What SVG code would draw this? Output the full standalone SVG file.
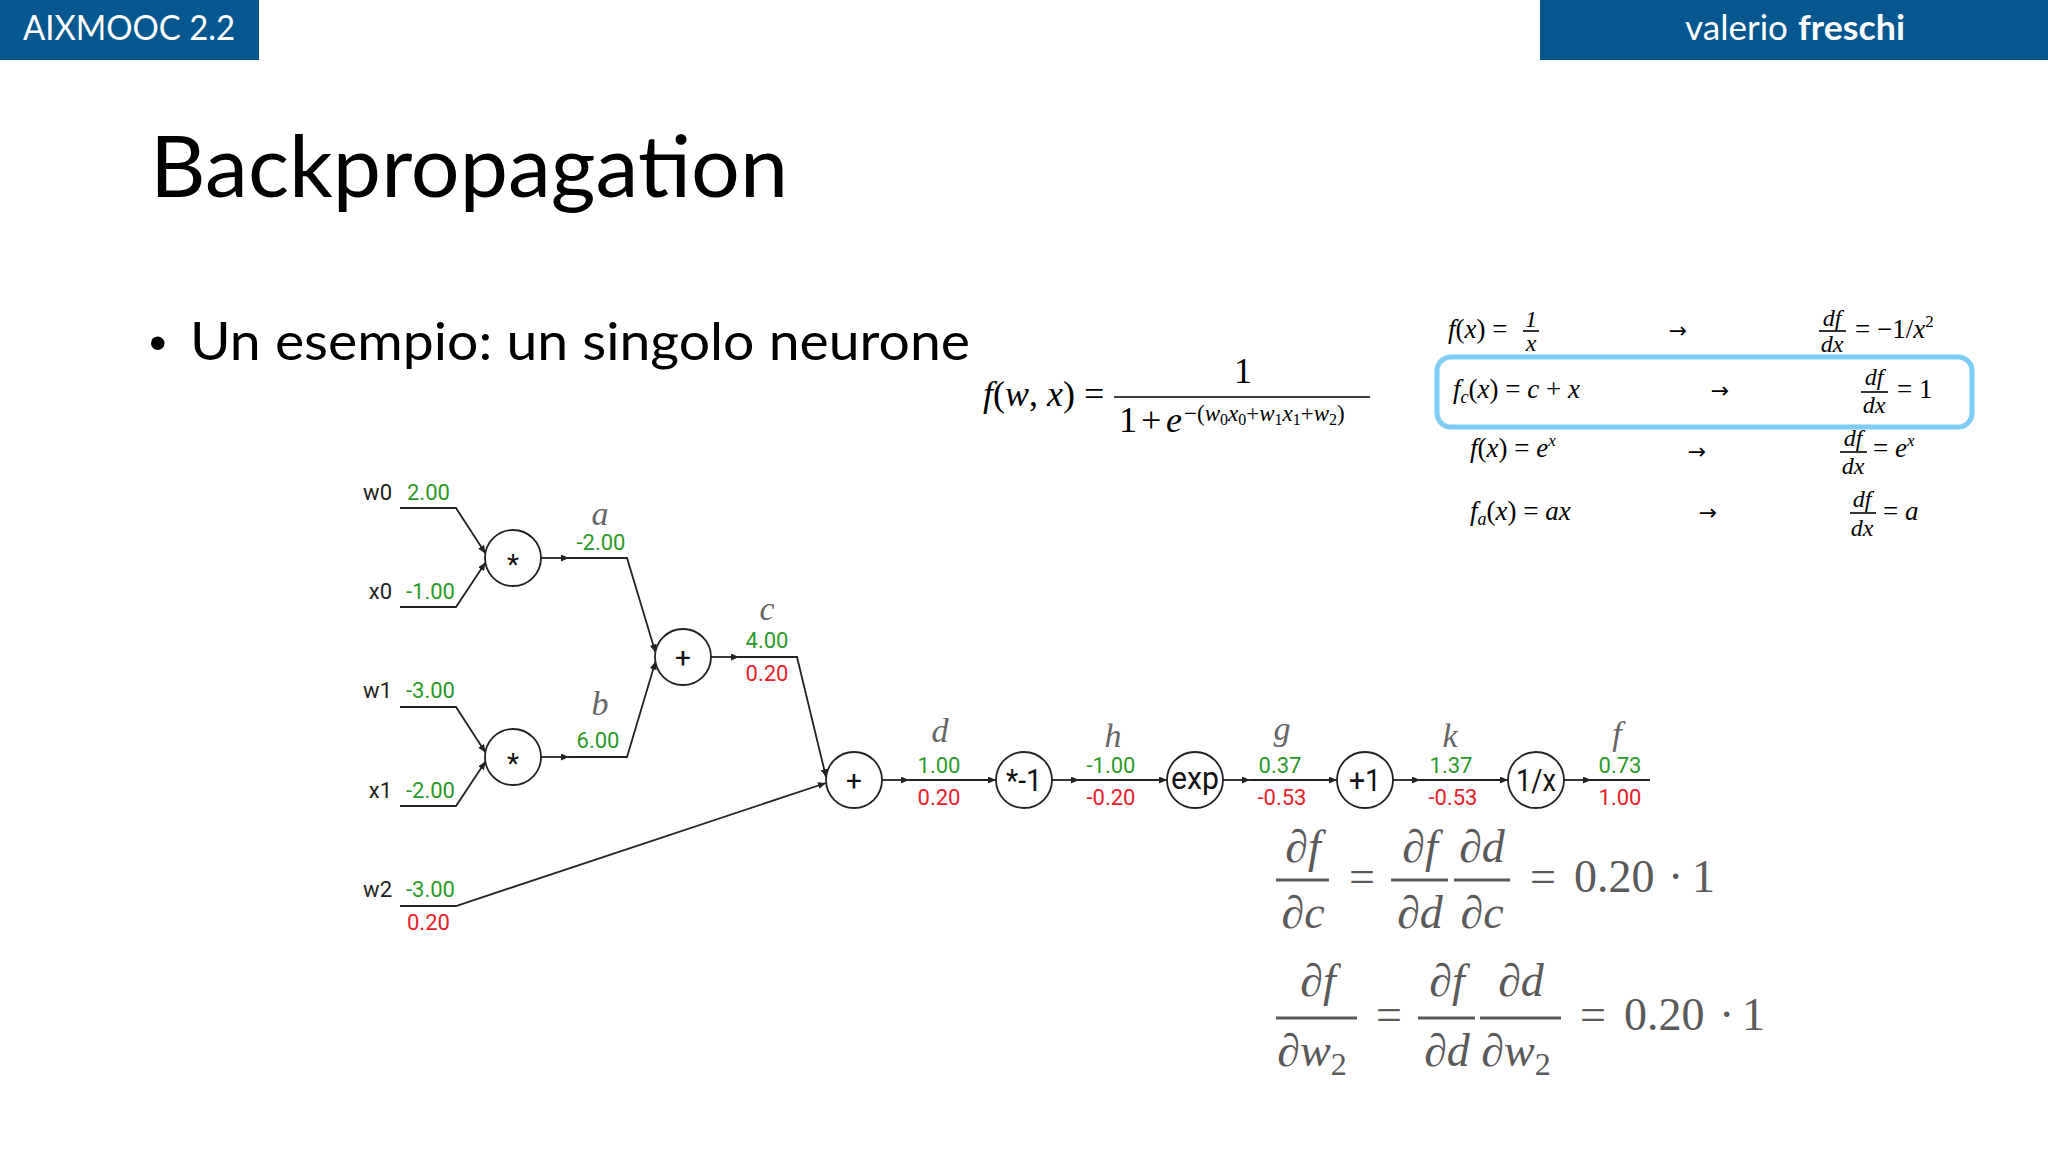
<svg xmlns="http://www.w3.org/2000/svg" width="2048" height="1152" viewBox="0 0 2048 1152">
<defs>
<style>
.hdr{fill:#04578f}
.sans{font-family:Lato,"Liberation Sans",sans-serif}
.hdrt{font-family:Lato,"Liberation Sans",sans-serif;font-size:34px;fill:#fff}
.lbl{font-family:Roboto,"Liberation Sans",sans-serif;font-size:22px;fill:#222;text-anchor:end}
.gv{font-family:Roboto,"Liberation Sans",sans-serif;font-size:22px;fill:#2a9a2a;text-anchor:middle}
.gr{font-family:Roboto,"Liberation Sans",sans-serif;font-size:22px;fill:#e8202a;text-anchor:middle}
.st{text-anchor:start}
.var{font-family:"Liberation Serif",serif;font-style:italic;font-size:34px;fill:#666;text-anchor:middle}
.node circle{fill:#fff;stroke:#222;stroke-width:1.8}
.op{font-family:Roboto,"Liberation Sans",sans-serif;font-size:28px;text-anchor:middle;fill:#111}
.op2{font-family:Roboto,"Liberation Sans",sans-serif;font-size:32px;fill:#111}
.edge{fill:none;stroke:#222;stroke-width:1.8}
.m{font-family:"Liberation Serif",serif;fill:#000}
.t{font-family:"Liberation Serif",serif;fill:#000;font-size:27px}
.f{font-family:"Liberation Serif",serif;fill:#000;font-size:24px;text-anchor:middle;font-style:italic}
.arr{font-family:"DejaVu Sans",sans-serif;fill:#000;font-size:22px;text-anchor:middle}
.i{font-style:italic}
.eq{font-family:"Liberation Serif",serif;fill:#5a5a5a;font-size:46px}
.eqc{font-family:"Liberation Serif",serif;fill:#5a5a5a;font-size:46px;text-anchor:middle;font-style:italic}
.bar{stroke:#000;stroke-width:1.6}
.ebar{stroke:#5a5a5a;stroke-width:3}
</style>
<marker id="ah" markerUnits="userSpaceOnUse" markerWidth="9" markerHeight="7" refX="8" refY="3.5" orient="auto"><path d="M0,0 L8,3.5 L0,7 z" fill="#222"/></marker>
</defs>
<rect width="2048" height="1152" fill="#fff"/>

<!-- header -->
<g id="header-left">
<rect class="hdr" x="0" y="0" width="259" height="60"/>
<text class="hdrt" x="23" y="40" textLength="212" lengthAdjust="spacingAndGlyphs">AIXMOOC 2.2</text>
</g>
<g id="header-right">
<rect class="hdr" x="1540" y="0" width="508" height="60"/>
<text class="hdrt" x="1685" y="40" textLength="103" lengthAdjust="spacingAndGlyphs">valerio</text>
<text class="hdrt" x="1798" y="40" font-weight="bold" textLength="107" lengthAdjust="spacingAndGlyphs">freschi</text>
</g>

<g id="title">
<text class="sans" x="150" y="197" font-size="86" fill="#000" textLength="638" lengthAdjust="spacingAndGlyphs">Backpropagation</text>
</g>
<g id="bullet">
<text x="149" y="360" font-family="'Liberation Sans',sans-serif" font-size="50" fill="#000">•</text>
<text class="sans" x="190" y="360" font-size="53" fill="#000" textLength="780" lengthAdjust="spacingAndGlyphs">Un esempio: un singolo neurone</text>
</g>

<!-- sigmoid formula -->
<g id="formula">
<text class="m" x="983" y="406" font-size="36"><tspan class="i">f</tspan>(<tspan class="i">w</tspan>, <tspan class="i">x</tspan>) =</text>
<text class="m" x="1243" y="383" font-size="36" text-anchor="middle">1</text>
<line class="bar" x1="1114" y1="397" x2="1370" y2="397" stroke-width="2"/>
<text class="m" y="432" font-size="36"><tspan x="1119">1</tspan><tspan x="1141">+</tspan><tspan class="i" x="1166">e</tspan></text>
<text class="m" x="1184" y="421" font-size="23">−(<tspan class="i">w</tspan><tspan font-size="16" dy="4">0</tspan><tspan class="i" dy="-4">x</tspan><tspan font-size="16" dy="4">0</tspan><tspan dy="-4">+</tspan><tspan class="i">w</tspan><tspan font-size="16" dy="4">1</tspan><tspan class="i" dy="-4">x</tspan><tspan font-size="16" dy="4">1</tspan><tspan dy="-4">+</tspan><tspan class="i">w</tspan><tspan font-size="16" dy="4">2</tspan><tspan dy="-4">)</tspan></text>
</g>

<!-- derivative table -->
<g id="table">
<g id="row1">
<text class="t" x="1448" y="338"><tspan class="i">f</tspan>(<tspan class="i">x</tspan>) =</text>
<text class="f" x="1531" y="327" font-style="normal">1</text>
<line class="bar" x1="1523" y1="331" x2="1539" y2="331"/>
<text class="f" x="1531" y="351">x</text>
<text class="arr" x="1678" y="338">→</text>
<text class="f" x="1832" y="326">df</text>
<line class="bar" x1="1819" y1="331" x2="1846" y2="331"/>
<text class="f" x="1832" y="352">dx</text>
<text class="t" x="1855" y="338">= −1/<tspan class="i">x</tspan><tspan font-size="17" dy="-11">2</tspan></text>
</g>
<g id="row2">
<rect x="1437" y="357" width="535" height="70" rx="14" fill="none" stroke="#7ecbf5" stroke-width="5"/>
<text class="t" x="1453" y="398"><tspan class="i">f</tspan><tspan class="i" font-size="18" dy="5">c</tspan><tspan dy="-5">(</tspan><tspan class="i">x</tspan>) = <tspan class="i">c</tspan> + <tspan class="i">x</tspan></text>
<text class="arr" x="1720" y="398">→</text>
<text class="f" x="1874" y="385">df</text>
<line class="bar" x1="1861" y1="392" x2="1888" y2="392"/>
<text class="f" x="1874" y="413">dx</text>
<text class="t" x="1897" y="398">= 1</text>
</g>
<g id="row3">
<text class="t" x="1470" y="457"><tspan class="i">f</tspan>(<tspan class="i">x</tspan>) = <tspan class="i">e</tspan><tspan class="i" font-size="17" dy="-11">x</tspan></text>
<text class="arr" x="1697" y="459">→</text>
<text class="f" x="1853" y="446">df</text>
<line class="bar" x1="1840" y1="452" x2="1867" y2="452"/>
<text class="f" x="1853" y="474">dx</text>
<text class="t" x="1873" y="457">= <tspan class="i">e</tspan><tspan class="i" font-size="17" dy="-11">x</tspan></text>
</g>
<g id="row4">
<text class="t" x="1470" y="520"><tspan class="i">f</tspan><tspan class="i" font-size="18" dy="5">a</tspan><tspan dy="-5">(</tspan><tspan class="i">x</tspan>) = <tspan class="i">ax</tspan></text>
<text class="arr" x="1708" y="520">→</text>
<text class="f" x="1862" y="507">df</text>
<line class="bar" x1="1850" y1="513" x2="1876" y2="513"/>
<text class="f" x="1862" y="536">dx</text>
<text class="t" x="1883" y="520">= <tspan class="i">a</tspan></text>
</g>
</g>

<!-- connectors -->
<g id="connectors">
<path class="edge" d="M400,508 L456,508 L485.5,553.5" marker-end="url(#ah)"/>
<path class="edge" d="M400,607 L456,607 L485.5,562.5" marker-end="url(#ah)"/>
<path class="edge" d="M400,707 L456,707 L485.5,752.5" marker-end="url(#ah)"/>
<path class="edge" d="M400,806 L456,806 L485.5,761.5" marker-end="url(#ah)"/>
<path class="edge" d="M400,906 L456,906 L826,783" marker-end="url(#ah)"/>
<path class="edge" d="M541,558 L569,558" marker-end="url(#ah)"/>
<path class="edge" d="M569,558 L627,558 L655.5,652.5" marker-end="url(#ah)"/>
<path class="edge" d="M541,757 L569,757" marker-end="url(#ah)"/>
<path class="edge" d="M569,757 L627,757 L655.5,661.5" marker-end="url(#ah)"/>
<path class="edge" d="M711,657 L739,657" marker-end="url(#ah)"/>
<path class="edge" d="M739,657 L797,657 L826,777" marker-end="url(#ah)"/>
<path class="edge" d="M882,780 L909,780" marker-end="url(#ah)"/>
<path class="edge" d="M909,780 L996,780" marker-end="url(#ah)"/>
<path class="edge" d="M1052,780 L1079,780" marker-end="url(#ah)"/>
<path class="edge" d="M1079,780 L1167,780" marker-end="url(#ah)"/>
<path class="edge" d="M1223,780 L1250,780" marker-end="url(#ah)"/>
<path class="edge" d="M1250,780 L1337,780" marker-end="url(#ah)"/>
<path class="edge" d="M1393,780 L1420,780" marker-end="url(#ah)"/>
<path class="edge" d="M1420,780 L1508,780" marker-end="url(#ah)"/>
<path class="edge" d="M1564,780 L1591,780" marker-end="url(#ah)"/>
<path class="edge" d="M1591,780 L1650,780"/>
</g>

<!-- input labels -->
<g id="inputs">
<text class="lbl" x="392" y="500">w0</text>
<text class="gv st" x="407" y="500">2.00</text>
<text class="lbl" x="392" y="599">x0</text>
<text class="gv st" x="406" y="599">-1.00</text>
<text class="lbl" x="392" y="698">w1</text>
<text class="gv st" x="406" y="698">-3.00</text>
<text class="lbl" x="392" y="798">x1</text>
<text class="gv st" x="406" y="798">-2.00</text>
<text class="lbl" x="392" y="897">w2</text>
<text class="gv st" x="406" y="897">-3.00</text>
<text class="gr st" x="407" y="930">0.20</text>
</g>

<!-- nodes -->
<g id="node-mul0" class="node"><circle cx="513" cy="558" r="28"/><text class="op" x="513" y="574">*</text></g>
<g id="node-mul1" class="node"><circle cx="513" cy="757" r="28"/><text class="op" x="513" y="773">*</text></g>
<g id="node-add0" class="node"><circle cx="683" cy="657" r="28"/><text class="op" x="683" y="667">+</text></g>
<g id="node-add1" class="node"><circle cx="854" cy="780" r="28"/><text class="op" x="854" y="790">+</text></g>
<g id="node-neg" class="node"><circle cx="1024" cy="780" r="28"/><text class="op2" x="1006" y="791" textLength="36" lengthAdjust="spacingAndGlyphs">*-1</text></g>
<g id="node-exp" class="node"><circle cx="1195" cy="780" r="28"/><text class="op2" x="1171" y="789" textLength="48" lengthAdjust="spacingAndGlyphs">exp</text></g>
<g id="node-add2" class="node"><circle cx="1365" cy="780" r="28"/><text class="op2" x="1349" y="791" textLength="32" lengthAdjust="spacingAndGlyphs">+1</text></g>
<g id="node-inv" class="node"><circle cx="1536" cy="780" r="28"/><text class="op2" x="1516" y="791" textLength="40" lengthAdjust="spacingAndGlyphs">1/x</text></g>

<!-- edge labels -->
<g id="label-a"><text class="var" x="600" y="525">a</text><text class="gv" x="601" y="550">-2.00</text></g>
<g id="label-b"><text class="var" x="600" y="715">b</text><text class="gv" x="598" y="748">6.00</text></g>
<g id="label-c"><text class="var" x="767" y="620">c</text><text class="gv" x="767" y="648">4.00</text><text class="gr" x="767" y="681">0.20</text></g>
<g id="label-d"><text class="var" x="940" y="742">d</text><text class="gv" x="939" y="773">1.00</text><text class="gr" x="939" y="805">0.20</text></g>
<g id="label-h"><text class="var" x="1113" y="747">h</text><text class="gv" x="1111" y="773">-1.00</text><text class="gr" x="1111" y="805">-0.20</text></g>
<g id="label-g"><text class="var" x="1282" y="740">g</text><text class="gv" x="1280" y="773">0.37</text><text class="gr" x="1282" y="805">-0.53</text></g>
<g id="label-k"><text class="var" x="1450" y="747">k</text><text class="gv" x="1451" y="773">1.37</text><text class="gr" x="1453" y="805">-0.53</text></g>
<g id="label-f"><text class="var" x="1617" y="745">f</text><text class="gv" x="1620" y="773">0.73</text><text class="gr" x="1620" y="805">1.00</text></g>

<!-- chain rule equations -->
<g id="eq1">
<text class="eqc" x="1303" y="862">∂f</text>
<line class="ebar" x1="1276" y1="880" x2="1329" y2="880"/>
<text class="eqc" x="1303" y="928">∂c</text>
<text class="eq" x="1362" y="892" text-anchor="middle">=</text>
<text class="eqc" x="1420" y="862">∂f</text>
<line class="ebar" x1="1391" y1="880" x2="1448" y2="880"/>
<text class="eqc" x="1420" y="928">∂d</text>
<text class="eqc" x="1482" y="862">∂d</text>
<line class="ebar" x1="1454" y1="880" x2="1510" y2="880"/>
<text class="eqc" x="1482" y="928">∂c</text>
<text class="eq" x="1543" y="892" text-anchor="middle">=</text>
<text class="eq" y="892"><tspan x="1574">0.20</tspan><tspan x="1668">·</tspan><tspan x="1692">1</tspan></text>
</g>
<g id="eq2">
<text class="eqc" x="1318" y="996">∂f</text>
<line class="ebar" x1="1276" y1="1018" x2="1357" y2="1018"/>
<text class="eqc" x="1312" y="1066">∂w<tspan font-size="32" font-style="normal" dy="9">2</tspan></text>
<text class="eq" x="1389" y="1030" text-anchor="middle">=</text>
<text class="eqc" x="1447" y="996">∂f</text>
<line class="ebar" x1="1418" y1="1018" x2="1475" y2="1018"/>
<text class="eqc" x="1447" y="1066">∂d</text>
<text class="eqc" x="1521" y="996">∂d</text>
<line class="ebar" x1="1480" y1="1018" x2="1561" y2="1018"/>
<text class="eqc" x="1516" y="1066">∂w<tspan font-size="32" font-style="normal" dy="9">2</tspan></text>
<text class="eq" x="1593" y="1030" text-anchor="middle">=</text>
<text class="eq" y="1030"><tspan x="1624">0.20</tspan><tspan x="1719">·</tspan><tspan x="1742">1</tspan></text>
</g>
</svg>
